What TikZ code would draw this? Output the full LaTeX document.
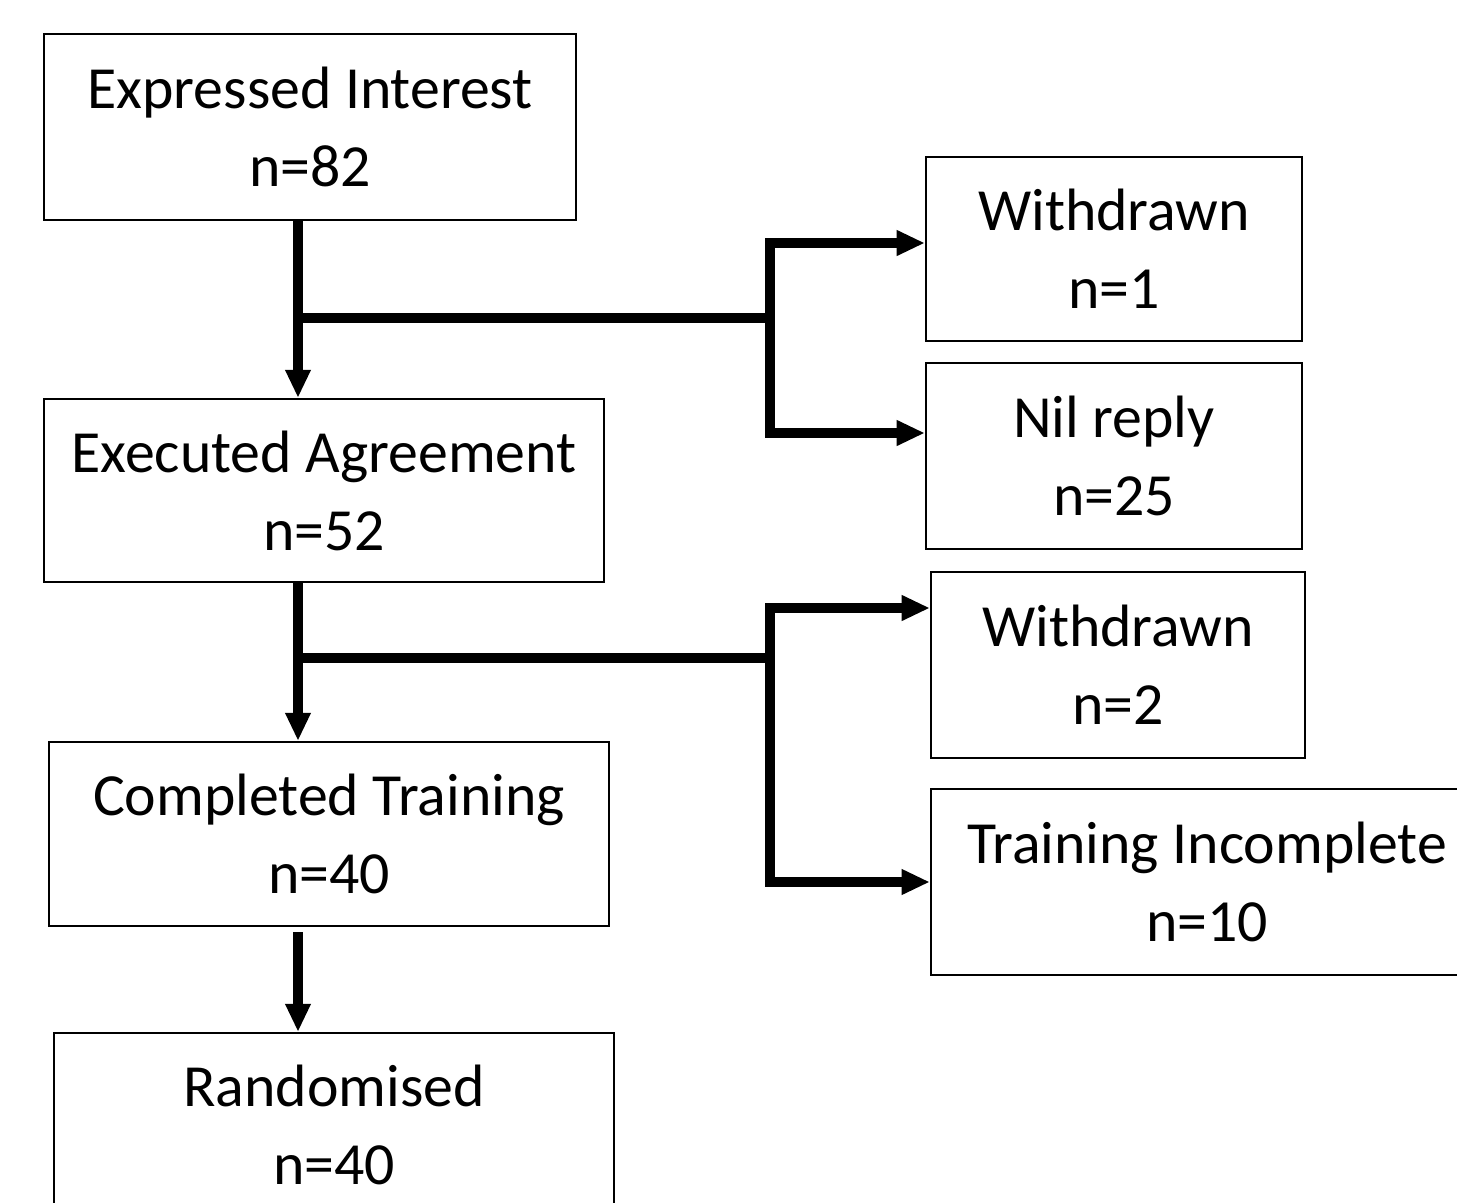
\documentclass[tikz,border=0pt]{standalone}
\usepackage{fontspec}
\setmainfont{Carlito}
\usetikzlibrary{arrows.meta}
\begin{document}
\begin{tikzpicture}[x=0.01cm,y=-0.01cm,
  box/.style={draw=black, line width=0.6pt, rectangle, inner sep=0pt, align=center,
    font=\fontsize{17}{22.2}\selectfont},
  thick line/.style={line width=2.6pt, line join=miter},
  conn/.style={thick line, -{Triangle[length=8pt,width=6.8pt]}}]
\useasboundingbox (0,0) rectangle (1457,1203);
% boxes
\node[box, minimum width=5.32cm, minimum height=1.86cm] (b1) at (310,127) {Expressed Interest\\n=82};
\node[box, minimum width=5.60cm, minimum height=1.83cm] (b2) at (324,490.5) {Executed Agreement\\n=52};
\node[box, minimum width=5.60cm, minimum height=1.84cm] (b3) at (329,834) {Completed Training\\n=40};
\node[box, minimum width=5.60cm, minimum height=1.84cm] (b4) at (334,1125) {Randomised\\n=40};
\node[box, minimum width=3.76cm, minimum height=1.84cm] (b5) at (1114,249) {Withdrawn\\n=1};
\node[box, minimum width=3.76cm, minimum height=1.86cm] (b6) at (1114,456) {Nil reply\\n=25};
\node[box, minimum width=3.74cm, minimum height=1.86cm] (b7) at (1118,665) {Withdrawn\\n=2};
\node[box, minimum width=5.52cm, minimum height=1.86cm] (b8) at (1207,882) {Training Incomplete\\n=10};
% helper coordinates
\coordinate (s1) at (298,318);
\coordinate (j1) at (770,318);
\coordinate (t1) at (770,243);
\coordinate (t2) at (770,433);
\coordinate (s2) at (298,658);
\coordinate (j2) at (770,658);
\coordinate (t3) at (770,608);
\coordinate (t4) at (770,882);
\coordinate (s3) at (298,932);
% connectors
\draw[conn] (b1.south -| s1) -- (b2.north -| s1);
\draw[thick line] (s1) -- (j1);
\draw[conn] (j1) |- (b5.west |- t1);
\draw[conn] (j1) |- (b6.west |- t2);
\draw[conn] (b2.south -| s2) -- (b3.north -| s2);
\draw[thick line] (s2) -- (j2);
\draw[conn] (j2) |- (b7.west |- t3);
\draw[conn] (j2) |- (b8.west |- t4);
\draw[conn] (s3) -- (b4.north -| s3);
\end{tikzpicture}
\end{document}
